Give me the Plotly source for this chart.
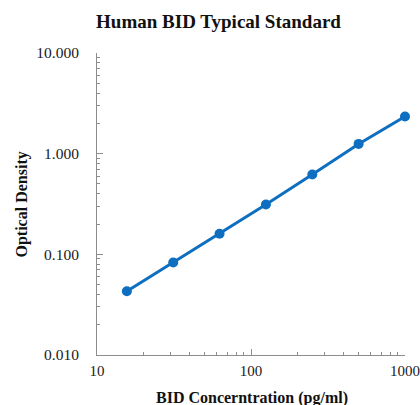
import plotly.graph_objects as go

# Data
conc = [15.625, 31.25, 62.5, 125, 250, 500, 1000]
od = [0.043, 0.083, 0.160, 0.313, 0.62, 1.25, 2.34]

x_tickvals = [10, 100, 1000]
x_ticktext = ["10", "100", "1000"]
y_tickvals = [0.01, 0.1, 1, 10]
y_ticktext = ["0.010", "0.100", "1.000", "10.000"]

title_text = "Human BID Typical Standard"
x_title = "BID Concerntration (pg/ml)"
y_title = "Optical Density"

BLUE = "#0E6FC1"
AXIS = "#8C8C8C"
FONT = "Liberation Serif"

W, H = 420, 405
L, R, T, B = 97, 15, 53, 50
PW, PH = W - L - R, H - T - B

fig = go.Figure()
fig.add_trace(go.Scatter(
    x=conc, y=od, mode="lines+markers",
    line=dict(color=BLUE, width=3),
    marker=dict(color=BLUE, size=10),
    showlegend=False, cliponaxis=False,
))

axis_common = dict(
    type="log", showgrid=False, zeroline=False,
    showline=True, linecolor=AXIS, linewidth=1,
    ticks="inside", ticklen=6, tickcolor=AXIS, tickwidth=1,
    minor=dict(ticks="inside", ticklen=3, tickcolor=AXIS, dtick="D1", showgrid=False),
    tickmode="array", ticklabeloverflow="allow", automargin=False,
)

fig.update_xaxes(range=[1, 3], tickvals=x_tickvals, ticktext=x_ticktext,
                 ticklabelstandoff=2,
                 tickfont=dict(family=FONT, size=15, color="#1a1a1a"), **axis_common)
fig.update_yaxes(range=[-2, 1], tickvals=y_tickvals, ticktext=y_ticktext,
                 ticklabelstandoff=14,
                 tickfont=dict(family=FONT, size=15.5, color="#1a1a1a"), **axis_common)

fig.update_layout(
    width=W, height=H,
    margin=dict(l=L, r=R, t=T, b=B),
    paper_bgcolor="white", plot_bgcolor="white",
    title=dict(text="<b>" + title_text + "</b>", x=218.5 / W, xref="container",
               xanchor="center", y=1 - 21 / H, yref="container", yanchor="middle",
               font=dict(family=FONT, size=19, color="#111")),
    annotations=[
        dict(text="<b>" + x_title + "</b>", xref="paper", yref="paper",
             x=(251.5 - L) / PW, y=-(398 - (H - B)) / PH, xanchor="center", yanchor="middle",
             showarrow=False, font=dict(family=FONT, size=16, color="#111")),
        dict(text="<b>" + y_title + "</b>", xref="paper", yref="paper",
             x=-(L - 21) / PW, y=((H - B) - 204.5) / PH, xanchor="center", yanchor="middle",
             textangle=-90, showarrow=False, font=dict(family=FONT, size=16, color="#111")),
    ],
)

fig.write_html(
    "out.html",
    config={"displayModeBar": False},
    post_script="document.body.style.margin='0';document.body.style.overflow='hidden';",
)
